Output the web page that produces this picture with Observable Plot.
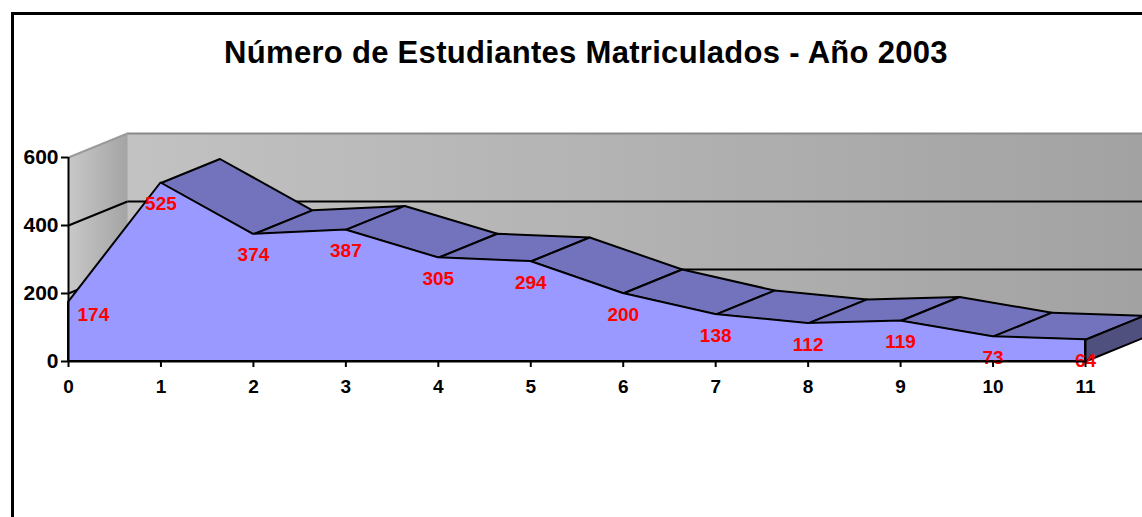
<!DOCTYPE html>
<html><head><meta charset="utf-8">
<script src="https://cdn.jsdelivr.net/npm/d3@7"></script>
<script src="https://cdn.jsdelivr.net/npm/@observablehq/plot@0.6"></script>
<style>
body{margin:0;background:#fff;width:1142px;height:517px;overflow:hidden;position:relative;font-family:"Liberation Sans",Arial,sans-serif}
#frame{position:absolute;left:11px;top:12px;width:1200px;height:600px;border:3px solid #000;}
#title{position:absolute;left:0;width:1172px;top:35px;text-align:center;font-weight:bold;font-size:31px;letter-spacing:0.3px;color:#000}
#chart{position:absolute;left:0;top:0}
</style></head><body>
<div id="frame"></div>
<div id="title">Número de Estudiantes Matriculados - Año 2003</div>
<svg width="0" height="0" style="position:absolute"><defs>
<linearGradient id="backGrad" x1="0" y1="0" x2="1" y2="0">
<stop offset="0" stop-color="#c2c2c2"/><stop offset="1" stop-color="#a2a2a2"/></linearGradient>
<linearGradient id="sideGrad" x1="0" y1="0" x2="1" y2="0">
<stop offset="0" stop-color="#c8c8c8"/><stop offset="1" stop-color="#a4a4a4"/></linearGradient>
</defs></svg>
<div id="chart"></div>
<script>
const categories = [0,1,2,3,4,5,6,7,8,9,10,11];
const students = [174,525,374,387,305,294,200,138,112,119,73,64];
const yTicks = [0,200,400,600];

const W = 1142, H = 517;
const mLeft = 68, mRight = 57, mTop = 157, mBottom = 156;
const depth = [59, -24]; // pixel depth of the 3D extrusion
const xMin = categories[0], xMax = categories[categories.length-1];
const yMin = yTicks[0], yMax = yTicks[yTicks.length-1];
const xk = (W - mLeft - mRight) / (xMax - xMin);
const yk = (H - mTop - mBottom) / (yMax - yMin);
const DX = depth[0] / xk, DY = -depth[1] / yk; // depth in data units

const data = categories.map((c,i)=>({i, x:c, y:students[i]}));

// top faces of the extruded area (back-face culled)
const quads = [];
for (let i=0;i<data.length-1;i++){
  const a=data[i], b=data[i+1];
  const ex = (b.x-a.x)*xk, ey = -(b.y-a.y)*yk;
  const cross = ex*depth[1] - ey*depth[0];
  if (cross >= 0) continue;
  quads.push({k:i,x:a.x,y:a.y},{k:i,x:b.x,y:b.y},{k:i,x:b.x+DX,y:b.y+DY},{k:i,x:a.x+DX,y:a.y+DY});
}
const last = data[data.length-1];
const rightFace = [
  {x:last.x,y:yMin},{x:last.x,y:last.y},{x:last.x+DX,y:last.y+DY},{x:last.x+DX,y:yMin+DY}
];
const sideWall = [
  {x:xMin,y:yMin},{x:xMin,y:yMax},{x:xMin+DX,y:yMax+DY},{x:xMin+DX,y:yMin+DY}
];
const inner = yTicks.filter(v=>v>yMin && v<yMax);
const font = "'Liberation Sans',Arial,sans-serif";

const chart = Plot.plot({
  width: W, height: H,
  marginLeft: mLeft, marginRight: mRight, marginTop: mTop, marginBottom: mBottom,
  x: {type:"linear", domain:[xMin,xMax], label:null},
  y: {type:"linear", domain:[yMin,yMax], label:null},
  style: {background:"transparent", fontFamily:font, fontWeight:"bold", color:"#000", overflow:"visible"},
  marks: [
    // back wall
    Plot.rect([{}], {x1:()=>xMin, x2:()=>xMax, y1:()=>yMin, y2:()=>yMax, dx:depth[0], dy:depth[1], fill:"url(#backGrad)"}),
    Plot.ruleY(inner, {x1:()=>xMin, x2:()=>xMax, dx:depth[0], dy:depth[1], stroke:"#000", strokeWidth:2}),
    Plot.ruleY([yMax], {x1:()=>xMin, x2:()=>xMax, dx:depth[0], dy:depth[1], stroke:"#8a8a8a", strokeWidth:2}),
    // side wall
    Plot.line(sideWall, {x:"x", y:"y", curve:"linear-closed", fill:"url(#sideGrad)", stroke:"none"}),
    Plot.link(inner, {x1:()=>xMin, y1:d=>d, x2:()=>xMin+DX, y2:d=>d+DY, stroke:"#000", strokeWidth:2}),
    Plot.link([yMax], {x1:()=>xMin, y1:d=>d, x2:()=>xMin+DX, y2:d=>d+DY, stroke:"#9a9a9a", strokeWidth:2}),
    // top faces
    Plot.line(quads, {x:"x", y:"y", z:"k", curve:"linear-closed", fill:"#7373bd", stroke:"#000", strokeWidth:2, strokeLinejoin:"round"}),
    // front face
    Plot.areaY(data, {x:"x", y:"y", fill:"#9999ff", stroke:"#000", strokeWidth:2, strokeLinejoin:"round"}),
    // right face
    Plot.line(rightFace, {x:"x", y:"y", curve:"linear-closed", fill:"#50507f", stroke:"#000", strokeWidth:2}),
    // data labels
    Plot.text(data.filter(d=>d.i>0), {x:"x", y:"y", text:d=>String(d.y), dy:21, fill:"#ff0000", fontSize:19, fontWeight:"bold", fontFamily:font}),
    Plot.text(data.filter(d=>d.i===0), {x:"x", y:"y", text:d=>String(d.y), dy:13, dx:9, textAnchor:"start", fill:"#ff0000", fontSize:19, fontWeight:"bold", fontFamily:font}),
    // axis lines
    Plot.ruleX([xMin], {y1:()=>yMin, y2:()=>yMax, stroke:"#000", strokeWidth:2}),
    Plot.ruleY([yMin], {x1:()=>xMin, x2:()=>xMax, stroke:"#000", strokeWidth:2}),
    // ticks
    Plot.axisX(categories, {tickSize:6, tickFormat:()=>"", label:null, stroke:"#000", strokeWidth:2}),
    Plot.axisY(yTicks, {tickSize:7, tickFormat:()=>"", label:null, stroke:"#000", strokeWidth:2}),
    // tick labels
    Plot.text(yTicks, {x:()=>xMin, y:d=>d, text:d=>String(d), dx:-10, textAnchor:"end", fontSize:21, fontWeight:"bold", fontFamily:font, fill:"#000"}),
    Plot.text(categories, {x:d=>d, y:()=>yMin, text:d=>String(d), dy:25, fontSize:19, fontWeight:"bold", fontFamily:font, fill:"#000"})
  ]
});
document.getElementById("chart").appendChild(chart);
</script>
</body></html>
